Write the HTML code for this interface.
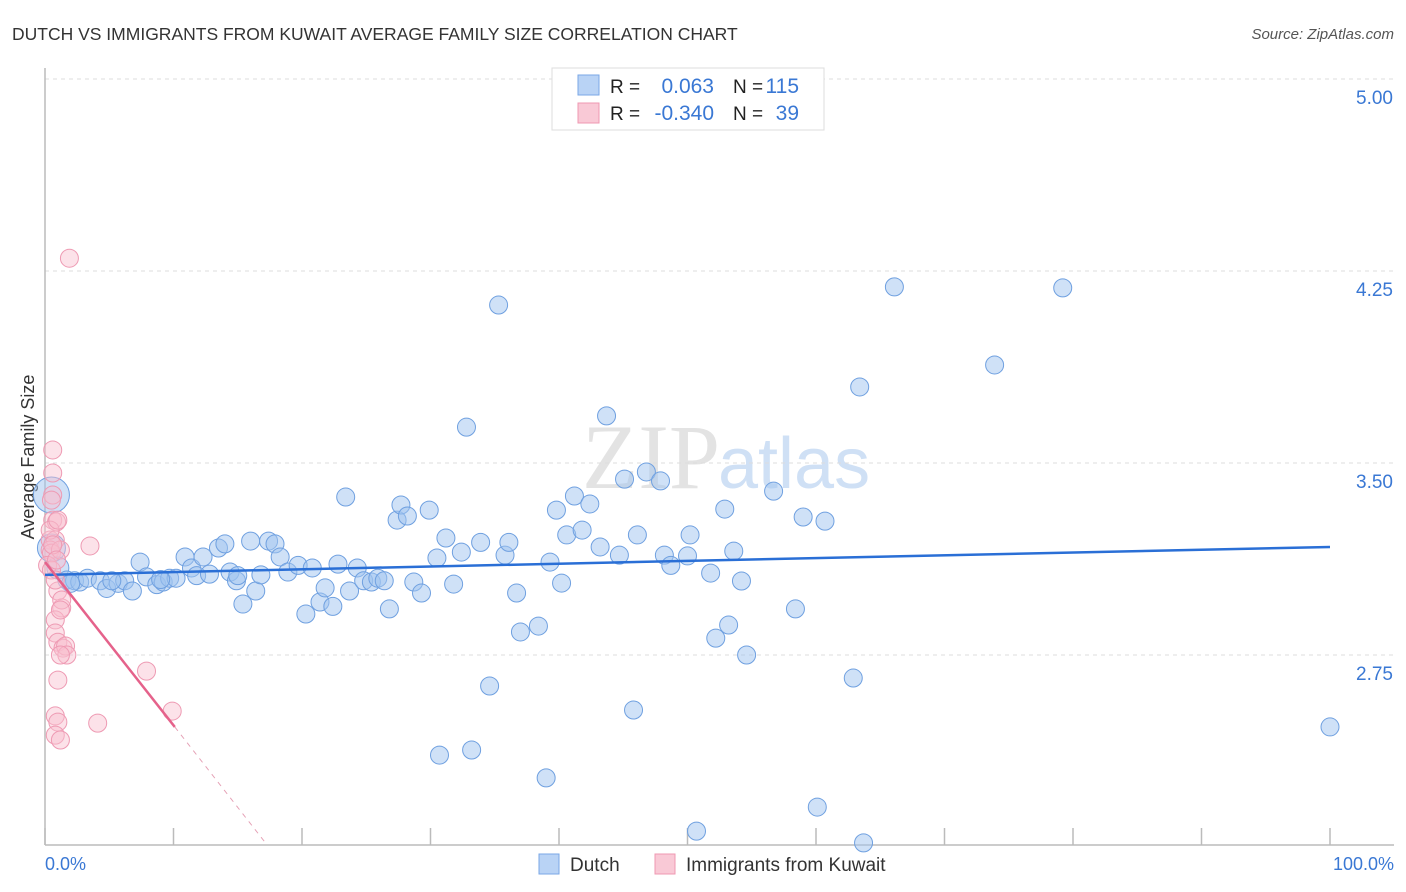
<!DOCTYPE html>
<html><head><meta charset="utf-8"><style>
body{margin:0;background:#fff;font-family:"Liberation Sans",sans-serif;}
svg{display:block}
</style></head><body>
<svg id="chart" width="1406" height="892" xmlns="http://www.w3.org/2000/svg">
<text x="12" y="40" font-size="17.5" fill="#333">DUTCH VS IMMIGRANTS FROM KUWAIT AVERAGE FAMILY SIZE CORRELATION CHART</text>
<text x="1394" y="39" font-size="15" fill="#555" font-style="italic" text-anchor="end">Source: ZipAtlas.com</text>
<text x="720" y="488" font-size="92" fill="#e3e3e3" text-anchor="end" font-family="Liberation Serif,serif">ZIP</text>
<text x="718" y="488" font-size="72" fill="#cfe0f5">atlas</text>
<text transform="translate(34,457) rotate(-90)" font-size="18" fill="#333" text-anchor="middle">Average Family Size</text>
<g id="grid"></g><g id="pts"></g><g id="lines"></g>
<g>
<rect x="552" y="68" width="272" height="62" fill="#fff" stroke="#ddd"/>
<rect x="578" y="75" width="21" height="20" fill="#b9d3f5" stroke="#7aa7e6"/>
<rect x="578" y="103" width="21" height="20" fill="#f9c9d6" stroke="#ef98b2"/>
<text x="610" y="93" font-size="19" fill="#222">R =</text>
<text x="714" y="93" font-size="21" fill="#3a78d4" text-anchor="end">0.063</text>
<text x="733" y="93" font-size="19" fill="#222">N =</text>
<text x="799" y="93" font-size="21" fill="#3a78d4" text-anchor="end">115</text>
<text x="610" y="120" font-size="19" fill="#222">R =</text>
<text x="714" y="120" font-size="21" fill="#3a78d4" text-anchor="end">-0.340</text>
<text x="733" y="120" font-size="19" fill="#222">N =</text>
<text x="799" y="120" font-size="21" fill="#3a78d4" text-anchor="end">39</text>
</g>
<g>
<rect x="539" y="854" width="20" height="20" fill="#b9d3f5" stroke="#7aa7e6"/>
<text x="570" y="871" font-size="19" fill="#333">Dutch</text>
<text x="686" y="871" font-size="19" fill="#333">Immigrants from Kuwait</text>
<rect x="655" y="854" width="20" height="20" fill="#f9c9d6" stroke="#ef98b2"/>
</g>
<text x="45" y="870" font-size="18" fill="#3a78d4">0.0%</text>
<text x="1394" y="870" font-size="18" fill="#3a78d4" text-anchor="end">100.0%</text>
</svg>
<script>
const yTicks=[5.00,4.25,3.50,2.75];
const yTickLabels=["5.00","4.25","3.50","2.75"];
const xTicks=[0,10,20,30,40,50,60,70,80,90,100];
const dutchX=[0.5,0.5,1.0,1.7,2.3,2.7,3.3,4.3,4.8,5.7,6.2,6.8,7.4,7.9,8.7,9.2,9.7,10.2,10.9,11.4,11.8,12.3,12.8,13.5,14.0,14.4,14.9,15.4,16.0,16.4,16.8,17.4,17.9,18.3,18.9,19.7,20.3,20.8,21.4,21.8,22.4,22.8,23.4,23.7,24.3,24.8,25.4,25.9,26.4,26.8,27.4,27.7,28.2,28.7,29.3,29.9,30.5,31.2,31.8,32.4,32.8,33.9,34.6,35.3,35.8,36.1,36.7,37.0,38.4,39.0,39.3,39.8,40.2,40.6,41.2,41.8,42.4,43.2,43.7,44.7,45.1,45.8,46.1,46.8,47.9,48.2,48.7,50.0,50.2,50.7,51.8,52.2,52.9,53.2,53.6,54.2,54.6,56.7,58.4,59.0,60.1,60.7,62.9,63.4,63.7,66.1,73.9,79.2,100,30.7,33.2,2.0,5.2,9.0,15.0];
const dutchY=[3.375,3.168,3.09,3.043,3.04,3.035,3.05,3.04,3.01,3.03,3.04,3.0,3.113,3.055,3.025,3.035,3.05,3.05,3.133,3.09,3.06,3.133,3.066,3.168,3.184,3.074,3.04,2.949,3.195,3.0,3.063,3.195,3.184,3.133,3.074,3.10,2.91,3.09,2.957,3.012,2.94,3.105,3.367,3.0,3.09,3.04,3.035,3.05,3.04,2.93,3.277,3.336,3.293,3.035,2.992,3.316,3.129,3.207,3.027,3.152,3.64,3.19,2.629,4.117,3.14,3.19,2.992,2.84,2.863,2.27,3.113,3.316,3.031,3.219,3.371,3.238,3.34,3.172,3.684,3.14,3.437,2.535,3.219,3.465,3.43,3.14,3.10,3.137,3.219,2.062,3.07,2.816,3.32,2.867,3.156,3.039,2.75,3.39,2.93,3.289,2.156,3.273,2.66,3.797,2.016,4.188,3.883,4.184,2.469,2.359,2.379,3.03,3.04,3.045,3.06];
const dutchR=[18,14,11];
const kuwaitX=[0.6,0.6,0.6,0.6,0.9,0.4,0.8,0.4,0.5,1.2,0.2,3.5,1.9,1.0,1.3,0.8,0.8,1.0,1.4,1.6,1.7,1.2,1.0,0.8,1.0,0.8,1.2,4.1,7.9,9.9,0.5,0.4,1.3,0.5,0.8,1.0,0.6,0.9,1.2];
const kuwaitY=[3.551,3.461,3.375,3.277,3.27,3.199,3.199,3.16,3.148,3.16,3.10,3.176,4.30,3.0,2.934,2.887,2.836,2.80,2.777,2.785,2.75,2.75,2.652,2.512,2.488,2.437,2.418,2.484,2.687,2.531,3.355,3.238,2.965,3.082,3.043,3.277,3.18,3.121,2.926];
const dutchTrend=[[0,3.063],[100,3.172]];
const kuwaitTrend=[[0,3.113],[10.1,2.469]];
const kuwaitTrendExt=[[10.1,2.469],[17.1,2.02]];

const X0=45,X1=1330,YTOP=79,PX_PER=256,YBOT=845;
const xs=p=>X0+(X1-X0)*p/100;
const ys=v=>YTOP+(5-v)*PX_PER;
const NS="http://www.w3.org/2000/svg";
function mk(tag,attrs,parent){const e=document.createElementNS(NS,tag);for(const k in attrs)e.setAttribute(k,attrs[k]);parent.appendChild(e);return e;}
const grid=document.getElementById('grid');
yTicks.forEach((t,i)=>{
  const l=mk('line',{x1:X0,x2:1394,y1:ys(t),y2:ys(t),stroke:'#ddd','stroke-dasharray':'4,4'},grid);
  
  
  const tx=mk('text',{x:1393,y:ys(t)+25,'font-size':19,fill:'#3a78d4','text-anchor':'end'},grid);
  tx.textContent=yTickLabels[i];
  
  
});
const ax=mk('line',{x1:X0,x2:X0,y1:68,y2:YBOT,stroke:'#bbb','stroke-width':1.5},grid);


const bx=mk('line',{x1:X0,x2:1394,y1:YBOT,y2:YBOT,stroke:'#bbb','stroke-width':1.5},grid);


xTicks.forEach(t=>{
  const l=mk('line',{x1:xs(t),x2:xs(t),y1:828,y2:YBOT,stroke:'#bbb','stroke-width':1.5},grid);
  
  
});
const pts=document.getElementById('pts');
dutchX.forEach((x,i)=>{
  const c=mk('circle',{cx:xs(x),cy:ys(dutchY[i]),r:dutchR[i]||9,fill:'rgba(160,196,240,0.5)',stroke:'#6fa0e0','stroke-width':1},pts);
  
  
});
kuwaitX.forEach((x,i)=>{
  const c=mk('circle',{cx:xs(x),cy:ys(kuwaitY[i]),r:9,fill:'rgba(248,190,206,0.45)',stroke:'#ee9ab3','stroke-width':1},pts);
  
  
});
const lines=document.getElementById('lines');
const d=mk('line',{x1:xs(dutchTrend[0][0]),y1:ys(dutchTrend[0][1]),x2:xs(dutchTrend[1][0]),y2:ys(dutchTrend[1][1]),stroke:'#2a6fd6','stroke-width':2.5},lines);


const k=mk('line',{x1:xs(kuwaitTrend[0][0]),y1:ys(kuwaitTrend[0][1]),x2:xs(kuwaitTrend[1][0]),y2:ys(kuwaitTrend[1][1]),stroke:'#e5628b','stroke-width':2.5},lines);


const ke=mk('line',{x1:xs(kuwaitTrendExt[0][0]),y1:ys(kuwaitTrendExt[0][1]),x2:xs(kuwaitTrendExt[1][0]),y2:ys(kuwaitTrendExt[1][1]),stroke:'#e5a0b5','stroke-width':1,'stroke-dasharray':'5,5'},lines);


</script>
</body></html>
